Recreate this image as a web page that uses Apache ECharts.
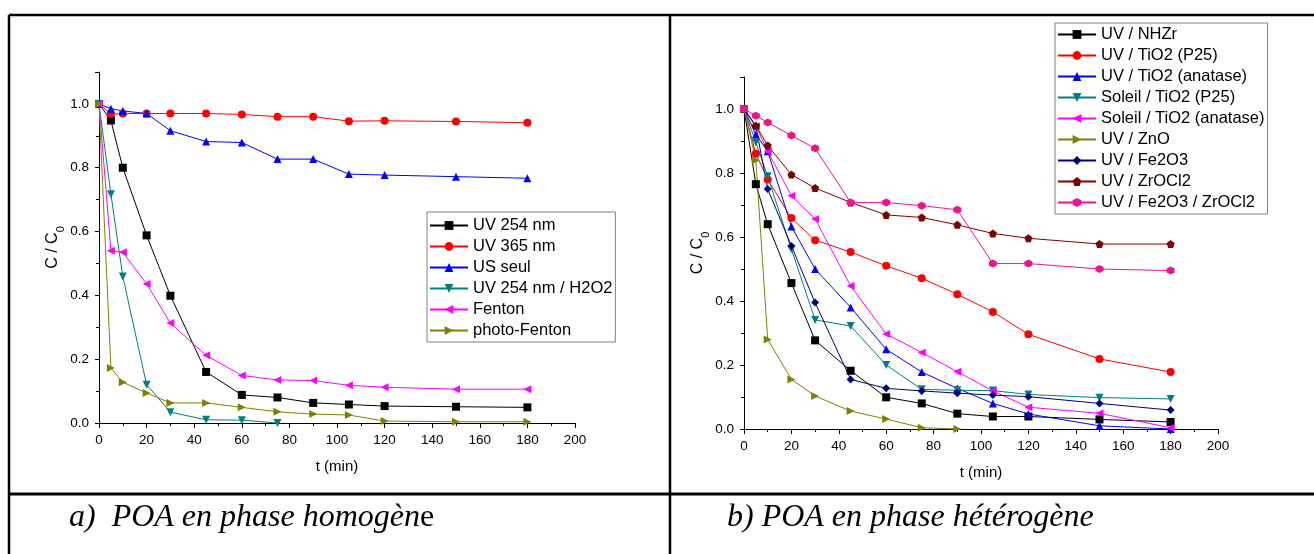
<!DOCTYPE html>
<html>
<head>
<meta charset="utf-8">
<script src="https://cdn.jsdelivr.net/npm/echarts@6/dist/echarts.min.js"></script>
<style>
html,body{margin:0;padding:0;background:#fff;}
#chart{width:1314px;height:554px;}
</style>
</head>
<body>
<div id="chart"></div>
<script>
// ---- data ----
const times = [0, 5, 10, 20, 30, 45, 60, 75, 90, 105, 120, 150, 180];
const xTicks = [0, 20, 40, 60, 80, 100, 120, 140, 160, 180, 200];
const yTicks = [0.0, 0.2, 0.4, 0.6, 0.8, 1.0];

// a) homogeneous
const homNames = ['UV 254 nm', 'UV 365 nm', 'US seul', 'UV 254 nm / H2O2', 'Fenton', 'photo-Fenton'];
const uv254 = [1.0, 0.948, 0.80, 0.588, 0.399, 0.160, 0.088, 0.080, 0.063, 0.058, 0.053, 0.051, 0.049];
const uv365 = [1.0, 0.968, 0.970, 0.970, 0.970, 0.970, 0.967, 0.960, 0.960, 0.946, 0.947, 0.945, 0.941];
const usSeul = [1.0, 0.985, 0.978, 0.970, 0.916, 0.882, 0.879, 0.827, 0.827, 0.780, 0.777, 0.772, 0.767];
const uv254H2O2 = [1.0, 0.717, 0.459, 0.120, 0.034, 0.010, 0.009, 0.0];
const fenton = [1.0, 0.540, 0.535, 0.436, 0.313, 0.212, 0.149, 0.135, 0.133, 0.118, 0.112, 0.106, 0.106];
const photoFenton = [1.0, 0.172, 0.128, 0.094, 0.063, 0.063, 0.049, 0.035, 0.028, 0.025, 0.006, 0.004, 0.004];

// b) heterogeneous
const hetNames = ['UV / NHZr', 'UV / TiO2 (P25)', 'UV / TiO2 (anatase)', 'Soleil / TiO2 (P25)', 'Soleil / TiO2 (anatase)', 'UV / ZnO', 'UV / Fe2O3', 'UV / ZrOCl2', 'UV / Fe2O3 / ZrOCl2'];
const uvNHZr = [1.0, 0.765, 0.640, 0.456, 0.277, 0.182, 0.099, 0.080, 0.048, 0.039, 0.039, 0.030, 0.022];
const uvTiO2P25 = [1.0, 0.860, 0.780, 0.659, 0.590, 0.553, 0.510, 0.471, 0.421, 0.366, 0.296, 0.219, 0.178];
const uvTiO2Ana = [1.0, 0.920, 0.868, 0.633, 0.500, 0.380, 0.249, 0.178, 0.127, 0.080, 0.047, 0.010, 0.0];
const solTiO2P25 = [1.0, 0.896, 0.790, 0.562, 0.341, 0.322, 0.200, 0.124, 0.121, 0.120, 0.108, 0.098, 0.094];
const solTiO2Ana = [1.0, 0.946, 0.868, 0.729, 0.656, 0.447, 0.297, 0.239, 0.179, 0.119, 0.068, 0.049, 0.004];
const uvZnO = [1.0, 0.840, 0.280, 0.155, 0.103, 0.056, 0.031, 0.004, 0.0];
const uvFe2O3 = [1.0, 0.946, 0.750, 0.572, 0.395, 0.155, 0.127, 0.119, 0.112, 0.106, 0.101, 0.080, 0.059];
const uvZrOCl2 = [1.0, 0.948, 0.886, 0.795, 0.753, 0.708, 0.669, 0.661, 0.638, 0.611, 0.596, 0.578, 0.578];
const uvFeZr = [1.0, 0.979, 0.958, 0.917, 0.877, 0.708, 0.708, 0.698, 0.685, 0.517, 0.517, 0.500, 0.495];

// ---- styles ----
const PENT = 'path://M0,-10 L9.51,-3.09 L5.88,8.09 L-5.88,8.09 L-9.51,-3.09 Z';
const HEX = 'path://M0,-10 L8.66,-5 L8.66,5 L0,10 L-8.66,5 L-8.66,-5 Z';
const DIAM = 'path://M0,-10 L10,0 L0,10 L-10,0 Z';

const homStyle = [
  {c:'#000000', s:'rect', r:0},
  {c:'#FF0000', s:'circle', r:0},
  {c:'#0000FF', s:'triangle', r:0},
  {c:'#008080', s:'triangle', r:180},
  {c:'#FF00FF', s:'triangle', r:90},
  {c:'#808000', s:'triangle', r:-90}
];
const hetStyle = [
  {c:'#000000', s:'rect', r:0},
  {c:'#FF0000', s:'circle', r:0},
  {c:'#0000FF', s:'triangle', r:0},
  {c:'#008080', s:'triangle', r:180},
  {c:'#FF00FF', s:'triangle', r:90},
  {c:'#808000', s:'triangle', r:-90},
  {c:'#000080', s:DIAM, r:0},
  {c:'#800000', s:PENT, r:0},
  {c:'#F0148C', s:HEX, r:0}
];
const homValues = [uv254, uv365, usSeul, uv254H2O2, fenton, photoFenton];
const hetValues = [uvNHZr, uvTiO2P25, uvTiO2Ana, solTiO2P25, solTiO2Ana, uvZnO, uvFe2O3, uvZrOCl2, uvFeZr];

const FONT = '"Liberation Sans", Arial, sans-serif';
const SERIF = '"Liberation Serif", "Times New Roman", serif';

function mkSeries(names, values, styles, idx) {
  return names.map((n, i) => ({
    name: n,
    type: 'line',
    xAxisIndex: idx,
    yAxisIndex: idx,
    data: values[i].map((v, k) => [times[k], v]),
    symbol: styles[i].s,
    symbolRotate: styles[i].r,
    symbolSize: 8,
    showSymbol: true,
    lineStyle: {color: styles[i].c, width: 1},
    itemStyle: {color: styles[i].c, borderWidth: 0},
    emphasis: {disabled: true},
    animation: false
  }));
}

function xAxis(gi) {
  return {
    type: 'value', gridIndex: gi, min: 0, max: 200, interval: 20,
    name: 't (min)', nameLocation: 'middle', nameGap: 36,
    nameTextStyle: {fontFamily: FONT, fontSize: 15, color: '#000'},
    axisLine: {show: true, onZero: false, lineStyle: {color: '#000', width: 1}},
    axisTick: {show: true, inside: false, length: 5, lineStyle: {color: '#000'}},
    minorTick: {show: true, splitNumber: 2, length: 3, lineStyle: {color: '#000'}},
    splitLine: {show: false},
    axisLabel: {fontFamily: FONT, fontSize: 13.5, color: '#000', margin: 10,
      formatter: v => (xTicks.indexOf(v) >= 0 ? String(v) : '')}
  };
}
function yAxis(gi) {
  return {
    type: 'value', gridIndex: gi, min: 0, max: 1.1, interval: 0.2,
    name: '{a|C / C}{s|0}', nameLocation: 'middle', nameGap: 32,
    nameTextStyle: {
      fontFamily: FONT, color: '#000',
      rich: {
        a: {fontFamily: FONT, fontSize: 16, color: '#000', lineHeight: 22, verticalAlign: 'top'},
        s: {fontFamily: FONT, fontSize: 11, color: '#000', lineHeight: 22, verticalAlign: 'bottom'}
      }
    },
    axisLine: {show: true, onZero: false, lineStyle: {color: '#000', width: 1}},
    axisTick: {show: true, inside: false, length: 4, lineStyle: {color: '#000'}},
    minorTick: {show: true, splitNumber: 2, length: 3, lineStyle: {color: '#000'}},
    splitLine: {show: false},
    axisLabel: {fontFamily: FONT, fontSize: 13.5, color: '#000', margin: 10,
      formatter: v => {
        const hit = yTicks.find(t => Math.abs(t - v) < 1e-6);
        return hit === undefined ? '' : hit.toFixed(1);
      }}
  };
}

function legend(names, left, top, padding) {
  return {
    data: names, orient: 'vertical', left: left, top: top,
    padding: padding, itemGap: 4, itemWidth: 38, itemHeight: 11,
    borderColor: '#808080', borderWidth: 1, backgroundColor: 'transparent',
    selectedMode: false,
    textStyle: {fontFamily: FONT, fontSize: 16.5, color: '#000'}
  };
}

const chart = echarts.init(document.getElementById('chart'), null, {renderer: 'canvas'});
chart.setOption({
  animation: false,
  backgroundColor: '#fff',
  grid: [
    {left: 99, top: 72, width: 476, height: 351},
    {left: 744, top: 77, width: 474, height: 352}
  ],
  xAxis: [xAxis(0), xAxis(1)],
  yAxis: [yAxis(0), yAxis(1)],
  legend: [
    legend(homNames, 427, 212, [5, 3, 3, 2]),
    legend(hetNames, 1055, 23, [3, 3, 3, 2])
  ],
  series: mkSeries(homNames, homValues, homStyle, 0).concat(mkSeries(hetNames, hetValues, hetStyle, 1)),
  graphic: [
    {type: 'line', shape: {x1: 9, y1: 15, x2: 1314, y2: 15}, style: {stroke: '#000', lineWidth: 2.5}},
    {type: 'line', shape: {x1: 9, y1: 15, x2: 9, y2: 554}, style: {stroke: '#000', lineWidth: 2.5}},
    {type: 'line', shape: {x1: 670, y1: 15, x2: 670, y2: 554}, style: {stroke: '#000', lineWidth: 2.5}},
    {type: 'line', shape: {x1: 9, y1: 494, x2: 1314, y2: 494}, style: {stroke: '#000', lineWidth: 3}},
    {type: 'text', left: 69, top: 502, style: {
      text: '{i|a)  POA en phase homogèn}{n|e}',
      rich: {
        i: {fontFamily: SERIF, fontStyle: 'italic', fontSize: 32, fill: '#000', lineHeight: 36},
        n: {fontFamily: SERIF, fontSize: 32, fill: '#000', lineHeight: 36}
      }
    }},
    {type: 'text', left: 727, top: 502, style: {
      text: '{i|b) POA en phase hétérogène}',
      rich: {
        i: {fontFamily: SERIF, fontStyle: 'italic', fontSize: 32, fill: '#000', lineHeight: 36}
      }
    }}
  ]
});
</script>
</body>
</html>
